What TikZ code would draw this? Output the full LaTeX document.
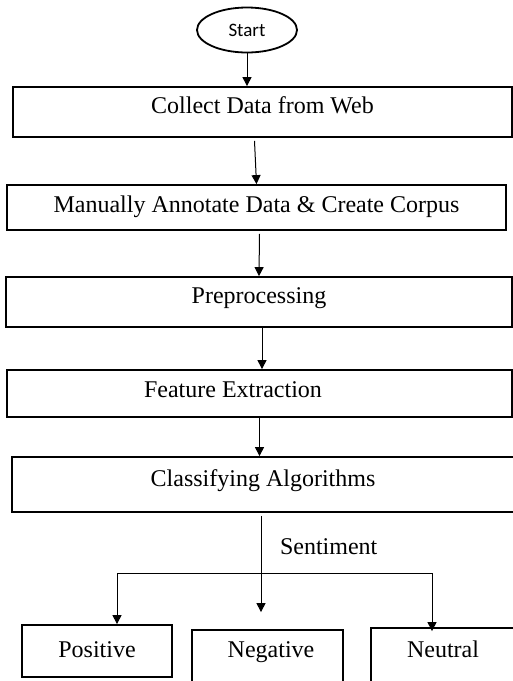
\documentclass[tikz,border=0pt]{standalone}
\usepackage{fontspec}
\setmainfont{Liberation Serif}
\newfontfamily\startfont{Carlito}
\usetikzlibrary{arrows.meta,shapes.geometric,calc}

\begin{document}
\begin{tikzpicture}[x=0.5pt,y=-0.5pt,
  box/.style={draw,rectangle,line width=0.9pt,inner sep=0pt,font=\fontsize{12}{14}\selectfont},
  arr/.style={line width=0.5pt,-{Triangle[width=4.5pt,length=4.5pt]}}]
\useasboundingbox (0,0) rectangle (513,681);
% start
\node[draw,ellipse,line width=0.9pt,minimum width=50pt,minimum height=22.5pt,inner sep=0pt,
  font=\startfont\fontsize{9.5}{11}\selectfont] (start) at (247,30) {Start};
% steps
\node[box,minimum width=249.5pt,text height=13pt,text depth=12pt] (collect) at (262.5,112) {Collect Data from Web};
\node[box,minimum width=249.5pt,text height=13.5pt,text depth=9pt] (manual) at (256.5,207.5) {Manually Annotate Data \& Create Corpus};
\node[box,minimum width=253pt,text height=13pt,text depth=12pt] (prep) at (259,302) {Preprocessing};
\node[box,minimum width=252.5pt,text height=13.5pt,text depth=10pt] (feature) at (259.5,393.5) {Feature Extraction\hspace*{26.5pt}};
\node[box,minimum width=251pt,text height=14.5pt,text depth=13pt] (class) at (263,484.5) {Classifying Algorithms};
% outcomes
\node[box,minimum width=75pt,text height=16pt,text depth=10pt] (pos) at (97,651) {Positive};
\node[box,minimum width=75.5pt,text height=13.5pt,text depth=16.5pt] (neg) at (267.5,660) {\hspace*{3.5pt}Negative};
\node[box,minimum width=72pt,text height=14.5pt,text depth=15.5pt] (neut) at (443,658) {Neutral};
\node[anchor=west,font=\fontsize{12}{14}\selectfont] (senti) at (273,547) {Sentiment};
\coordinate (split) at (261,573);
\coordinate (lft) at (117,573);
\coordinate (rgt) at (432,573);
% arrows
\draw[arr] (start) -- (start |- collect.north);
\draw[arr] ($(collect.south)+(-8,3)$) -- (manual.north);
\draw[arr] ($(manual.south)+(3,3)$) -- (prep.north);
\draw[arr] ($(prep.south)+(3,0)$) -- ($(feature.north)+(2.5,0)$);
\draw[arr] (feature.south) -- (feature.south |- class.north);
\draw[line width=0.5pt] ($(class.south)+(-2,3)$) -- (split);
\draw[line width=0.5pt] (lft) -- (rgt);
\draw[arr] (lft) -- (lft |- pos.north);
\draw[arr,shorten >=8.5pt] (split) -- (split |- neg.north);
\draw[arr] (rgt) -- ($(rgt |- neut.north)+(0,4)$);
\end{tikzpicture}
\end{document}
